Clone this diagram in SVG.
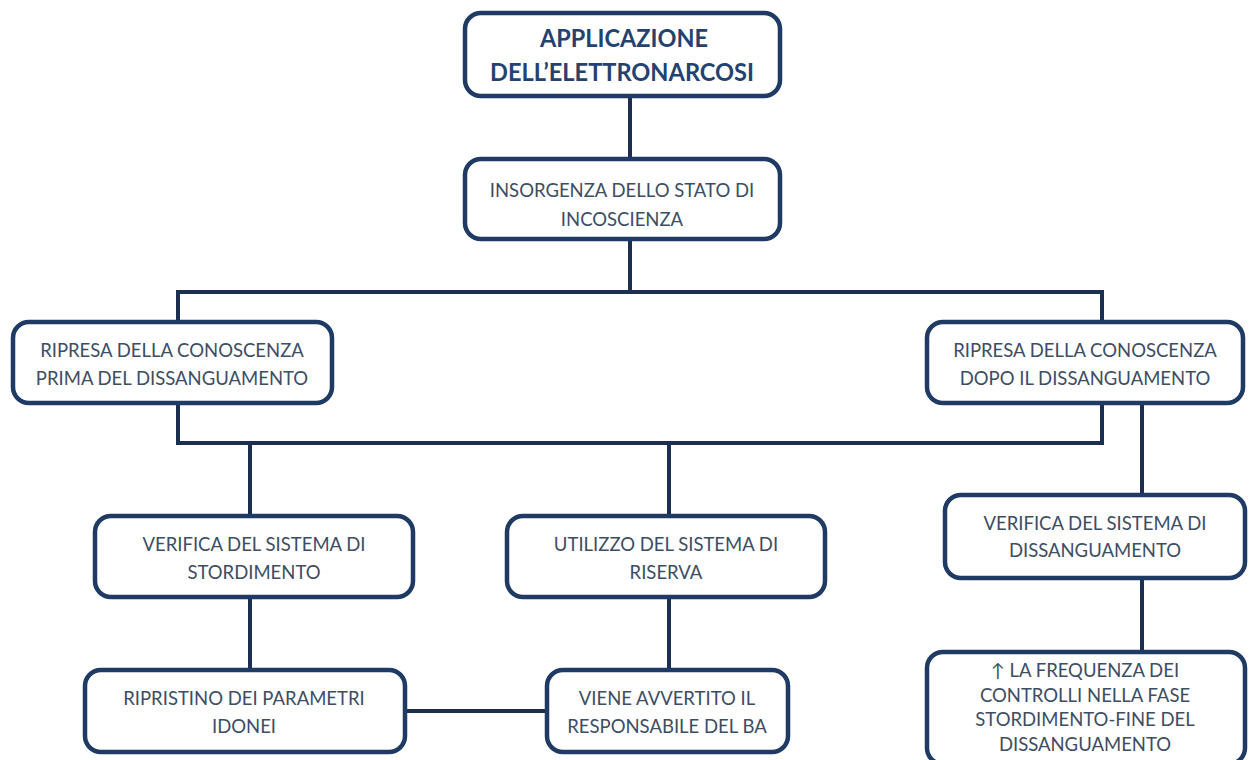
<svg xmlns="http://www.w3.org/2000/svg" width="1252" height="760" viewBox="0 0 1252 760">
<style>
.box{fill:#ffffff;stroke:#1f3a63;stroke-width:4.5}
.t{font-family:Lato,"Open Sans","Liberation Sans",sans-serif;font-size:18.5px;fill:#3d4d63;text-anchor:middle}
.title{font-family:Lato,"Open Sans","Liberation Sans",sans-serif;font-size:25.5px;font-weight:bold;fill:#24426f;text-anchor:middle}
.c{stroke:#1c2f52;stroke-width:4;fill:none}
</style>
<rect width="1252" height="760" fill="#ffffff"/>
<g id="connectors">
<line class="c" x1="630" y1="96" x2="630" y2="159"/>
<line class="c" x1="630" y1="239" x2="630" y2="292"/>
<polyline class="c" points="178,322 178,292 1102,292 1102,322"/>
<polyline class="c" points="178,403 178,443 1102,443 1102,403"/>
<line class="c" x1="250" y1="443" x2="250" y2="516"/>
<line class="c" x1="669" y1="443" x2="669" y2="516"/>
<line class="c" x1="1142" y1="403" x2="1142" y2="495"/>
<line class="c" x1="250" y1="597" x2="250" y2="670"/>
<line class="c" x1="669" y1="597" x2="669" y2="670"/>
<line class="c" x1="1142" y1="578" x2="1142" y2="652"/>
<line class="c" x1="405" y1="711" x2="547" y2="711"/>
</g>
<g id="n-applicazione">
<rect class="box" x="465" y="13" width="315" height="83" rx="16"/>
<text class="title" x="624" y="47" textLength="168" lengthAdjust="spacingAndGlyphs">APPLICAZIONE</text>
<text class="title" x="622" y="81" textLength="264" lengthAdjust="spacingAndGlyphs">DELL’ELETTRONARCOSI</text>
</g>
<g id="n-insorgenza">
<rect class="box" x="465" y="159" width="315" height="80" rx="16"/>
<text class="t" x="622" y="197">INSORGENZA DELLO STATO DI</text>
<text class="t" x="622" y="226">INCOSCIENZA</text>
</g>
<g id="n-prima">
<rect class="box" x="13" y="322" width="319" height="81" rx="16"/>
<text class="t" x="172" y="357">RIPRESA DELLA CONOSCENZA</text>
<text class="t" x="172" y="385">PRIMA DEL DISSANGUAMENTO</text>
</g>
<g id="n-dopo">
<rect class="box" x="927" y="322" width="316" height="81" rx="16"/>
<text class="t" x="1085" y="357">RIPRESA DELLA CONOSCENZA</text>
<text class="t" x="1085" y="385">DOPO IL DISSANGUAMENTO</text>
</g>
<g id="n-verifica-stord">
<rect class="box" x="95" y="516" width="318" height="81" rx="16"/>
<text class="t" x="254" y="551">VERIFICA DEL SISTEMA DI</text>
<text class="t" x="254" y="579">STORDIMENTO</text>
</g>
<g id="n-riserva">
<rect class="box" x="507" y="516" width="318" height="81" rx="16"/>
<text class="t" x="666" y="551">UTILIZZO DEL SISTEMA DI</text>
<text class="t" x="666" y="579">RISERVA</text>
</g>
<g id="n-verifica-diss">
<rect class="box" x="945" y="495" width="300" height="83" rx="16"/>
<text class="t" x="1095" y="530">VERIFICA DEL SISTEMA DI</text>
<text class="t" x="1095" y="557">DISSANGUAMENTO</text>
</g>
<g id="n-ripristino">
<rect class="box" x="85" y="670" width="320" height="82" rx="16"/>
<text class="t" x="244" y="705">RIPRISTINO DEI PARAMETRI</text>
<text class="t" x="244" y="733">IDONEI</text>
</g>
<g id="n-avvertito">
<rect class="box" x="547" y="670" width="241" height="82" rx="16"/>
<text class="t" x="667" y="705">VIENE AVVERTITO IL</text>
<text class="t" x="667" y="733">RESPONSABILE DEL BA</text>
</g>
<g id="n-frequenza">
<rect class="box" x="927" y="652" width="318" height="112" rx="16"/>
<text class="t" x="1085" y="677">↑ LA FREQUENZA DEI</text>
<text class="t" x="1085" y="702">CONTROLLI NELLA FASE</text>
<text class="t" x="1085" y="726">STORDIMENTO-FINE DEL</text>
<text class="t" x="1085" y="751">DISSANGUAMENTO</text>
</g>
</svg>
